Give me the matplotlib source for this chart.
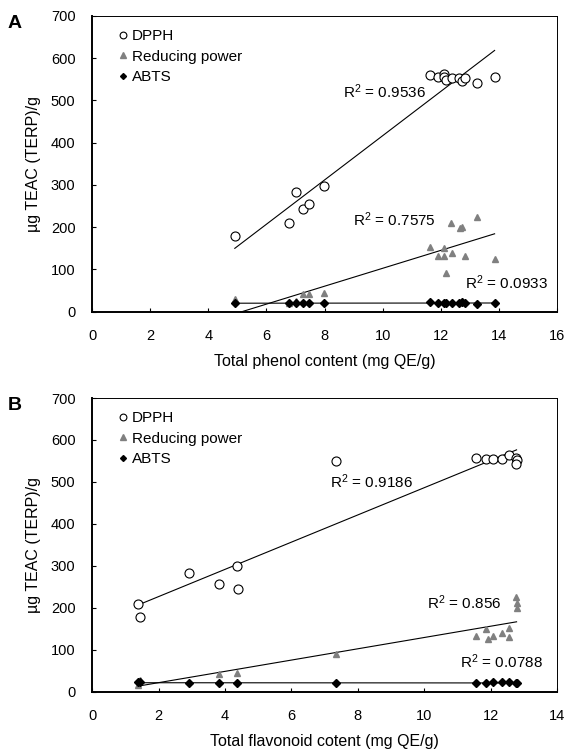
import matplotlib
matplotlib.use("Agg")
import matplotlib.pyplot as plt
import numpy as np

plt.rcParams['font.family'] = ['Liberation Sans', 'DejaVu Sans']
plt.rcParams['mathtext.fontset'] = 'custom'
plt.rcParams['mathtext.rm'] = 'Liberation Sans'
plt.rcParams['mathtext.it'] = 'Liberation Sans'

# panel A: total phenol content
phenol_dpph_x = [4.91, 6.77, 7.01, 7.26, 7.48, 7.99, 11.64, 11.90, 12.12, 12.10, 12.18,
                 12.39, 12.63, 12.73, 12.82, 13.26, 13.85]
phenol_dpph_y = [178, 209, 284, 244, 256, 298, 561, 555, 563, 555, 548,
                 553, 553, 546, 553, 542, 556]
phenol_rp_x = [4.92, 6.77, 7.01, 7.26, 7.48, 7.99, 11.64, 11.90, 12.12, 12.10, 12.18,
               12.39, 12.35, 12.67, 12.73, 12.82, 13.26, 13.85]
phenol_rp_y = [29, 20, 25, 42, 42, 45, 152, 133, 150, 133, 91,
               140, 211, 199, 201, 132, 223, 125]
phenol_abts_x = [4.92, 6.77, 7.01, 7.26, 7.48, 7.99, 11.64, 11.90, 12.10, 12.18,
                 12.39, 12.63, 12.73, 12.82, 13.26, 13.85]
phenol_abts_y = [21, 20, 20, 20, 20, 20, 22, 20, 21, 21, 21, 20, 22, 21, 18, 21]

# panel B: total flavonoid content
flav_dpph_x = [1.385, 1.435, 2.93, 3.82, 4.37, 4.40, 7.34, 11.57, 11.87, 12.07,
               12.34, 12.55, 12.75, 12.78, 12.75]
flav_dpph_y = [209, 177, 284, 257, 300, 245, 551, 557, 555, 554,
               555, 565, 557, 553, 543]
flav_rp_x = [1.435, 1.385, 3.82, 4.37, 7.34, 11.57, 11.87, 11.91, 12.07, 12.34,
             12.55, 12.55, 12.75, 12.78, 12.78]
flav_rp_y = [29, 17, 42, 44, 91, 133, 150, 126, 133, 141,
             151, 130, 225, 212, 200]
flav_abts_x = [1.385, 1.435, 2.93, 3.82, 4.37, 7.34, 11.57, 11.87, 12.07, 12.34,
               12.55, 12.75, 12.78]
flav_abts_y = [22, 24, 20, 20, 20, 21, 20, 20, 22, 22, 22, 21, 20]

r2_phenol = ['0.9536', '0.7575', '0.0933']
r2_phenol_pos = [(8.63, 521), (8.98, 217), (12.84, 69)]
r2_flav = ['0.9186', '0.856', '0.0788']
r2_flav_pos = [(7.16, 501), (10.07, 211), (11.07, 72)]


def trend(ax, x, y):
    x = np.array(x)
    a, b = np.polyfit(x, np.array(y), 1)
    xs = np.array([x.min(), x.max()])
    ax.plot(xs, a * xs + b, color='black', lw=0.8, zorder=1)


def panel(ax, dx, dy, rx, ry, bx, by, r2, r2pos, xmax, xlabel):
    ax.plot(dx, dy, 'o', mfc='white', mec='black', mew=0.8, ms=6.5, ls='none', label='DPPH', zorder=3)
    ax.plot(rx, ry, '^', color='#808080', ms=5, ls='none', label='Reducing power', zorder=2)
    ax.plot(bx, by, 'D', color='black', ms=4, ls='none', label='ABTS', zorder=4)
    trend(ax, dx, dy)
    trend(ax, rx, ry)
    trend(ax, bx, by)
    for val, (tx, ty) in zip(r2, r2pos):
        ax.text(tx, ty, 'R$^2$ = ' + val, fontsize=11, ha='left', va='center')
    ax.set_xlim(0, xmax)
    ax.set_ylim(0, 700)
    ax.set_xticks(range(0, xmax + 1, 2))
    ax.set_yticks(range(0, 701, 100))
    ax.tick_params(direction='in', length=3, labelsize=10.5)
    ax.tick_params(axis='y', pad=12)
    ax.tick_params(axis='x', pad=12.5)
    ax.set_xlabel(xlabel, fontsize=11.5, labelpad=8)
    ax.set_ylabel('µg TEAC (TERP)/g', fontsize=11.5, labelpad=7)
    for s in ['top', 'right']:
        ax.spines[s].set_linewidth(0.7)
    for s in ['left', 'bottom']:
        ax.spines[s].set_linewidth(1.4)
    ax.legend(loc='upper left', bbox_to_anchor=(0.05, 0.955), frameon=False, fontsize=11,
              handletextpad=0.1, handlelength=1.0, labelspacing=0.42,
              borderpad=0, borderaxespad=0, markerscale=0.75)


fig = plt.figure(figsize=(5.65, 7.53), dpi=100)
ax1 = fig.add_axes([0.163, 0.586, 0.823, 0.393])
ax2 = fig.add_axes([0.163, 0.0814, 0.823, 0.39])

panel(ax1, phenol_dpph_x, phenol_dpph_y, phenol_rp_x, phenol_rp_y, phenol_abts_x, phenol_abts_y,
      r2_phenol, r2_phenol_pos, 16, 'Total phenol content (mg QE/g)')
panel(ax2, flav_dpph_x, flav_dpph_y, flav_rp_x, flav_rp_y, flav_abts_x, flav_abts_y,
      r2_flav, r2_flav_pos, 14, 'Total flavonoid cotent (mg QE/g)')

fig.text(8 / 565, 1 - 23 / 753, 'A', fontsize=14, fontweight='bold', ha='left', va='center')
fig.text(8 / 565, 1 - 405 / 753, 'B', fontsize=14, fontweight='bold', ha='left', va='center')

fig.savefig('out.png', dpi=100)
